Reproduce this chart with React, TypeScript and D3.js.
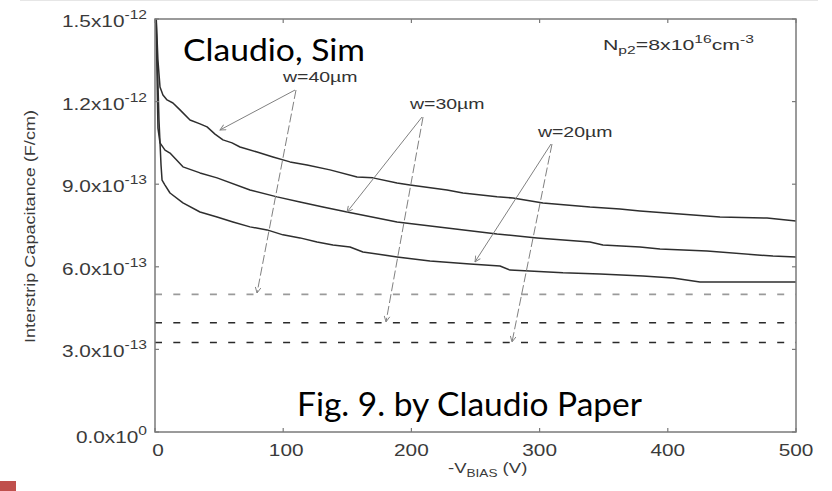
import React from 'react';
import * as d3 from 'd3';

// ---- data (C in units of 1e-13 F/cm, V in volts) ----
const xTickValues = [0, 100, 200, 300, 400, 500];
const yTickValues = [0, 3, 6, 9, 12, 15];
const yTickMantissa = ['0.0', '3.0', '6.0', '9.0', '1.2', '1.5'];
const yTickExponent = ['0', '-13', '-13', '-13', '-12', '-12'];

const w40V = [0.3, 0.8, 2.3, 3.9, 6.2, 9.4, 14.0, 19.5, 27.3, 35.1, 40.6, 46.8, 53.0, 60.1, 66.3, 79.6, 92.0, 105.3, 118.6, 136.5, 157.6, 170.0, 188.8, 198.9, 227.8, 240.2, 266.8, 279.2, 302.6, 339.3, 362.7, 378.3, 409.5, 440.7, 477.4, 500];
const w40C = [16.0, 15.2, 13.5, 12.53, 12.24, 12.06, 11.95, 11.70, 11.33, 11.19, 11.08, 10.82, 10.61, 10.50, 10.35, 10.17, 9.99, 9.81, 9.70, 9.52, 9.26, 9.23, 9.04, 8.97, 8.79, 8.68, 8.54, 8.50, 8.32, 8.17, 8.10, 8.03, 7.92, 7.81, 7.77, 7.66];

const w30V = [0.3, 1.2, 2.3, 3.9, 7.8, 11.7, 21.8, 35.1, 48.4, 74.1, 95.2, 113.1, 131.0, 149.8, 188.8, 227.8, 266.8, 298.0, 339.3, 349.4, 378.3, 393.9, 430.6, 482.0, 500];
const w30C = [16.0, 14.0, 11.04, 10.50, 10.24, 10.13, 9.63, 9.41, 9.23, 8.79, 8.54, 8.35, 8.17, 7.99, 7.63, 7.41, 7.19, 7.05, 6.90, 6.79, 6.72, 6.65, 6.57, 6.39, 6.36];

const w20V = [0.3, 1.2, 3.1, 4.7, 5.5, 7.8, 11.7, 21.8, 35.1, 48.4, 60.8, 74.1, 87.4, 99.8, 113.1, 126.4, 138.8, 152.1, 162.2, 188.8, 214.5, 245.7, 269.1, 276.9, 318.2, 347.1, 380.6, 404.0, 425.1, 500];
const w20C = [16.0, 14.5, 11.33, 9.70, 9.15, 8.97, 8.68, 8.32, 7.99, 7.81, 7.63, 7.45, 7.34, 7.16, 7.05, 6.90, 6.79, 6.72, 6.54, 6.36, 6.21, 6.10, 6.03, 5.88, 5.78, 5.74, 5.67, 5.59, 5.45, 5.45];

const refLevels = [5.0, 3.97, 3.25];
const refColors = ['#9a9a9a', '#2a2a2a', '#2a2a2a'];

const annoLabels = ['w=40\u00b5m', 'w=30\u00b5m', 'w=20\u00b5m'];
const annoLabelV = [99.8, 198.9, 298.7];
const annoLabelC = [12.72, 11.73, 10.72];
const annoApexV = [109.2, 208.3, 308.9];
const annoApexC = [12.42, 11.44, 10.46];
const annoCurveV = [50.7, 149.8, 249.6];
const annoCurveC = [10.97, 7.99, 6.18];
const annoRefV = [79.6, 180.2, 278.5];
const annoRefC = [5.05, 4.0, 3.27];

const W = 832;
const H = 491;
const L = 155, R = 796, T = 19, B = 432;
const HELV = "'Liberation Sans', Arial, Helvetica, sans-serif";
const CAL = "Lato, 'Open Sans', sans-serif";
const SX = 1.3;

export default function App() {
  const x = d3.scaleLinear().domain([0, 500]).range([L, R]);
  const y = d3.scaleLinear().domain([0, 15]).range([B, T]);
  const line = d3.line<[number, number]>().x(d => x(d[0])).y(d => y(d[1]));
  const series = [
    { v: w40V, c: w40C },
    { v: w30V, c: w30C },
    { v: w20V, c: w20C },
  ];
  const tickLen = 4;

  return (
    <svg width={W} height={H} style={{ position: 'absolute', left: 0, top: 0, background: '#fff' }}>
      <defs>
        <clipPath id="plotClip">
          <rect x={L} y={T} width={R - L} height={B - T} />
        </clipPath>
        <marker id="ah" viewBox="0 0 10 10" refX="9" refY="5" markerWidth="7" markerHeight="7" orient="auto" markerUnits="userSpaceOnUse">
          <path d="M1,1 L9,5 L1,9" fill="none" stroke="#808080" strokeWidth={1.3} />
        </marker>
      </defs>
      <rect x={0} y={0} width={W} height={H} fill="#fff" />
      <line x1={20} x2={818} y1={0.5} y2={0.5} stroke="#e6e6e6" strokeWidth={1} />

      {/* reference dashed lines */}
      {refLevels.map((lv, i) => (
        <line key={'ref' + i} x1={x(0)} x2={x(500)} y1={y(lv)} y2={y(lv)}
          stroke={refColors[i]} strokeWidth={1.6} strokeDasharray="7 11.3" />
      ))}

      {/* curves */}
      <g clipPath="url(#plotClip)">
        {series.map((s, i) => (
          <path key={'s' + i} d={line(s.v.map((v, j) => [v, s.c[j]]) as [number, number][]) || ''}
            fill="none" stroke="#2e2e2e" strokeWidth={1.5} strokeLinejoin="round" />
        ))}
      </g>

      {/* annotation arrows */}
      {annoLabels.map((lab, i) => (
        <g key={'an' + i}>
          <line x1={x(annoApexV[i])} y1={y(annoApexC[i])} x2={x(annoCurveV[i])} y2={y(annoCurveC[i])}
            stroke="#808080" strokeWidth={1} markerEnd="url(#ah)" />
          <line x1={x(annoApexV[i]) + 1} y1={y(annoApexC[i])} x2={x(annoRefV[i])} y2={y(annoRefC[i])}
            stroke="#808080" strokeWidth={1} strokeDasharray="9 3" markerEnd="url(#ah)" />
          <g transform={`translate(${x(annoLabelV[i])},${y(annoLabelC[i])}) scale(${SX},1)`}>
            <text fontFamily={HELV} fontSize={15} fill="#333">{lab}</text>
          </g>
        </g>
      ))}

      {/* frame */}
      <rect x={L} y={T} width={R - L} height={B - T} fill="none" stroke="#7a7a7a" strokeWidth={1.5} />

      {/* ticks */}
      {xTickValues.map((v, i) => (
        <g key={'xt' + i}>
          <line x1={x(v)} x2={x(v)} y1={B} y2={B - tickLen} stroke="#7a7a7a" strokeWidth={1.2} />
          <line x1={x(v)} x2={x(v)} y1={T} y2={T + tickLen} stroke="#7a7a7a" strokeWidth={1.2} />
          <g transform={`translate(${x(v) + (v < 150 ? 3 : 0)},456) scale(${SX},1)`}>
            <text textAnchor="middle" fontFamily={HELV} fontSize={16} fill="#3a3a3a">{v}</text>
          </g>
        </g>
      ))}
      {yTickValues.map((v, i) => (
        <g key={'yt' + i}>
          <line x1={L} x2={L + tickLen} y1={y(v)} y2={y(v)} stroke="#7a7a7a" strokeWidth={1.2} />
          <line x1={R} x2={R - tickLen} y1={y(v)} y2={y(v)} stroke="#7a7a7a" strokeWidth={1.2} />
          <g transform={`translate(147,${y(v) + (v === 0 ? 11 : 8)}) scale(${SX},1)`}>
            <text textAnchor="end" fontFamily={HELV} fontSize={16} fill="#3a3a3a">
              <tspan>{yTickMantissa[i]}x10</tspan>
              <tspan dy={-8} fontSize={12}>{yTickExponent[i]}</tspan>
            </text>
          </g>
        </g>
      ))}

      {/* axis titles */}
      <g transform={`translate(448,473) scale(${SX * 0.95},1)`}>
        <text fontFamily={HELV} fontSize={15} fill="#3a3a3a">
          <tspan>-V</tspan>
          <tspan dy={4} fontSize={11}>BIAS</tspan>
          <tspan dy={-4}> (V)</tspan>
        </text>
      </g>
      <text transform="translate(35,226.5) rotate(-90)" textAnchor="middle" fontFamily={HELV}
        fontSize={15.5} fill="#3a3a3a" textLength={233} lengthAdjust="spacingAndGlyphs">
        Interstrip Capacitance (F/cm)
      </text>

      {/* doping annotation */}
      <g transform={`translate(603,50) scale(1.42,1)`}>
        <text fontFamily={HELV} fontSize={15} fill="#333">
          <tspan>N</tspan>
          <tspan dy={4} fontSize={11}>p2</tspan>
          <tspan dy={-4}>=8x10</tspan>
          <tspan dy={-7} fontSize={11}>16</tspan>
          <tspan dy={7}>cm</tspan>
          <tspan dy={-7} fontSize={11}>-3</tspan>
        </text>
      </g>

      {/* overlay texts */}
      <text x={183} y={61} fontFamily={CAL} fontSize={31} fill="#000" textLength={182} lengthAdjust="spacingAndGlyphs">Claudio, Sim</text>
      <text x={297} y={416} fontFamily={CAL} fontSize={32} fill="#000" textLength={345} lengthAdjust="spacingAndGlyphs">Fig. 9. by Claudio Paper</text>

      {/* slide decoration */}
      <rect x={0} y={481} width={16} height={10} fill="#c0504d" />
    </svg>
  );
}
